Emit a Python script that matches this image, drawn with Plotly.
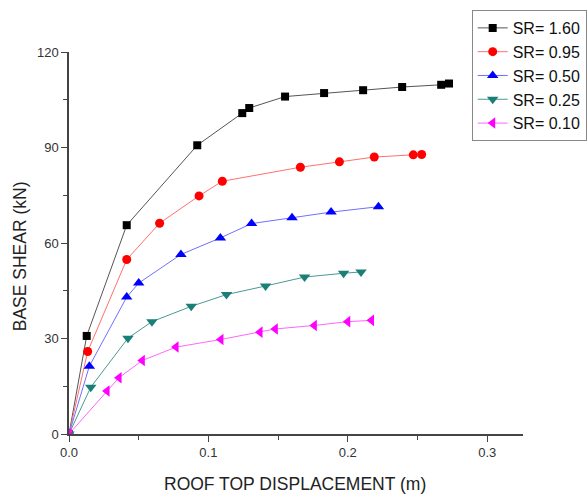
import plotly.graph_objects as go

names = ["SR= 1.60", "SR= 0.95", "SR= 0.50", "SR= 0.25", "SR= 0.10"]

x_160 = [0, 0.0127, 0.0414, 0.092, 0.1243, 0.1293, 0.155, 0.183, 0.211, 0.239, 0.267, 0.2726]
y_160 = [0, 30.8, 65.6, 90.7, 100.8, 102.4, 106.0, 107.1, 108.0, 109.0, 109.7, 110.1]

x_095 = [0, 0.0134, 0.0414, 0.065, 0.0933, 0.110, 0.166, 0.194, 0.219, 0.247, 0.253]
y_095 = [0, 25.9, 54.8, 66.2, 74.8, 79.4, 83.8, 85.5, 87.0, 87.7, 87.8]

x_050 = [0, 0.0146, 0.0414, 0.050, 0.0803, 0.1086, 0.131, 0.160, 0.188, 0.222]
y_050 = [0, 21.3, 43.0, 47.4, 56.4, 61.6, 66.1, 67.9, 69.7, 71.4]

x_025 = [0, 0.0156, 0.0423, 0.0595, 0.0877, 0.113, 0.141, 0.169, 0.197, 0.2095]
y_025 = [0, 14.7, 30.1, 35.3, 40.1, 43.8, 46.5, 49.3, 50.5, 50.9]

x_010 = [0, 0.0273, 0.0359, 0.0526, 0.0768, 0.109, 0.137, 0.148, 0.176, 0.200, 0.217]
y_010 = [0, 13.5, 17.7, 23.1, 27.3, 29.7, 32.0, 33.0, 34.1, 35.3, 35.7]

x_title = "ROOF TOP DISPLACEMENT (m)"
y_title = "BASE SHEAR (kN)"

xs = [x_160, x_095, x_050, x_025, x_010]
ys = [y_160, y_095, y_050, y_025, y_010]
marker_colors = ["#000000", "#ff0000", "#0000ff", "#1a7f76", "#ff00ff"]
line_colors = ["#555555", "#ff7070", "#7070ff", "#4a9a92", "#ff66ff"]
symbols = ["square", "circle", "triangle-up", "triangle-down", "triangle-left"]
sizes = [8, 9, 10, 10, 10]

FONT = "Liberation Sans, Arial, sans-serif"

fig = go.Figure()
for n, x, y, mc, lc, s, sz in zip(names, xs, ys, marker_colors, line_colors, symbols, sizes):
    fig.add_trace(go.Scatter(
        x=x, y=y, name=n, mode="lines+markers",
        line=dict(color=lc, width=1),
        marker=dict(color=mc, symbol=s, size=sz, line=dict(width=0)),
    ))

axis_common = dict(
    showgrid=False, zeroline=False, showline=True, linecolor="#444444", linewidth=1.5,
    ticks="outside", ticklen=6, tickwidth=1.2, tickcolor="#444444",
    tickfont=dict(family=FONT, size=13, color="#333333"),
    mirror=False,
)

fig.update_xaxes(
    range=[0, 0.3257], tick0=0, dtick=0.1, tickformat=".1f",
    minor=dict(ticks="outside", ticklen=4, dtick=0.05, tickcolor="#444444", tickwidth=1.2),
    **axis_common,
)
fig.update_yaxes(
    range=[0, 120], tick0=0, dtick=30,
    minor=dict(ticks="outside", ticklen=4, dtick=15, tickcolor="#444444", tickwidth=1.2),
    **axis_common,
)

title_font = dict(family=FONT, size=17.5, color="#222222")
fig.add_annotation(text=x_title, xref="paper", yref="paper", x=0.498, y=-0.132,
                   xanchor="center", yanchor="middle", showarrow=False, font=title_font)
fig.add_annotation(text=y_title, xref="paper", yref="paper", x=-0.109, y=0.464,
                   xanchor="center", yanchor="middle", showarrow=False, font=title_font,
                   textangle=-90)

fig.update_layout(
    width=587, height=494,
    margin=dict(l=69, r=64, t=52, b=60, autoexpand=False),
    paper_bgcolor="white", plot_bgcolor="white",
    showlegend=True,
    legend=dict(
        x=0.887, y=1.11, xanchor="left", yanchor="top",
        bordercolor="#888888", borderwidth=1, bgcolor="white",
        font=dict(family=FONT, size=16, color="#111111"),
        tracegroupgap=0,
    ),
)

fig.write_html("out.html")
